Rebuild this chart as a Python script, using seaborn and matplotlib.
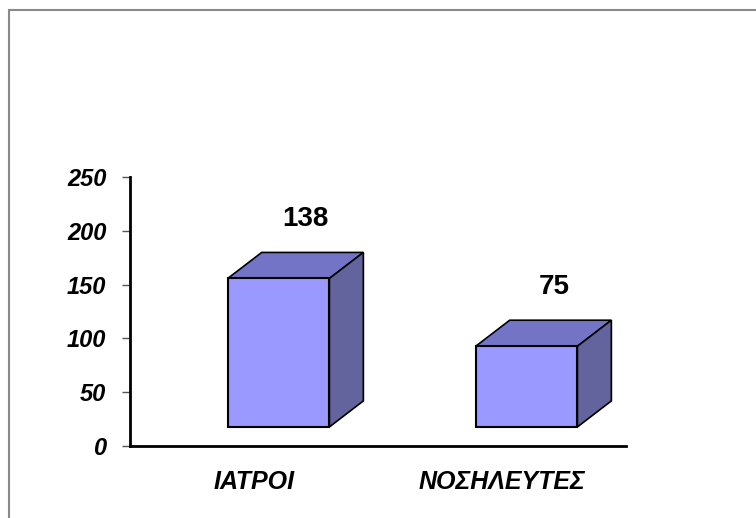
import matplotlib
matplotlib.use("Agg")
import matplotlib.pyplot as plt
import seaborn as sns
import numpy as np
from matplotlib.patches import Polygon, Rectangle

categories = ["ΙΑΤΡΟΙ", "ΝΟΣΗΛΕΥΤΕΣ"]
values = [138, 75]
yticks = [0, 50, 100, 150, 200, 250]

FRONT = "#9999FF"
TOP = "#7474C6"
SIDE = "#63639E"

sns.set_theme(style="white")
plt.rcParams["font.family"] = ["Liberation Sans", "DejaVu Sans"]
plt.rcParams["text.color"] = "black"
plt.rcParams["xtick.color"] = "black"
plt.rcParams["ytick.color"] = "black"

fig = plt.figure(figsize=(7.56, 5.18), dpi=100)
ax = fig.add_axes([130 / 756, 72 / 518, 496 / 756, 269 / 518])

sns.barplot(x=categories, y=values, color=FRONT, width=0.41, ax=ax,
            edgecolor="black", linewidth=1.5, saturation=1)

BASE = 17.7   # perspective floor offset (data units)
DX = 0.137    # depth offset x (data units)
DY = 24.2     # depth offset y (data units)
SHIFT = 0.099

for p, v in zip(ax.patches, values):
    p.set_x(p.get_x() + SHIFT)
    p.set_y(BASE)
    p.set_clip_on(False)
    p.set_zorder(3)
    x0 = p.get_x()
    x1 = x0 + p.get_width()
    y1 = BASE + p.get_height()
    top = Polygon([(x0, y1), (x0 + DX, y1 + DY), (x1 + DX, y1 + DY), (x1, y1)],
                  closed=True, facecolor=TOP, edgecolor="black", linewidth=1.2,
                  zorder=2, clip_on=False)
    side = Polygon([(x1, BASE), (x1 + DX, BASE + DY), (x1 + DX, y1 + DY), (x1, y1)],
                   closed=True, facecolor=SIDE, edgecolor="black", linewidth=1.2,
                   zorder=2, clip_on=False)
    ax.add_patch(top)
    ax.add_patch(side)
    ax.text((x0 + x1) / 2 + 0.11, y1 + DY + 31, f"{v}", ha="center", va="center",
            fontsize=20, fontweight="bold", color="black", clip_on=False)

ax.set_xlim(-0.5, 1.5)
ax.set_ylim(0, 250)
ax.set_yticks(yticks)
ax.set_yticklabels([str(t) for t in yticks], fontsize=17, fontweight="bold",
                   fontstyle="italic", color="black")
ax.set_xticks([0, 1])
ax.set_xticklabels(categories, fontsize=18, fontweight="bold", fontstyle="italic",
                   color="black")
ax.set_xticks([-0.5, 0.5, 1.5], minor=True)
ax.tick_params(axis="x", which="major", length=0, pad=17)
ax.tick_params(axis="x", which="minor", length=5, width=1, color="#777777", direction="out")
ax.tick_params(axis="y", which="major", length=6, width=1, color="#555555",
               direction="out", pad=11, left=True)
ax.set_xlabel("")
ax.set_ylabel("")
for s in ["top", "right"]:
    ax.spines[s].set_visible(False)
for s in ["left", "bottom"]:
    ax.spines[s].set_color("black")
    ax.spines[s].set_linewidth(2)
ax.grid(False)

# outer chart-area border
fig.patches.append(Rectangle((8.5 / 756, -0.05), 1.1, (518 - 9.5) / 518 + 0.05,
                             transform=fig.transFigure, fill=False,
                             edgecolor="#8a8a8a", linewidth=1.5))

fig.savefig("out.png", dpi=100)
